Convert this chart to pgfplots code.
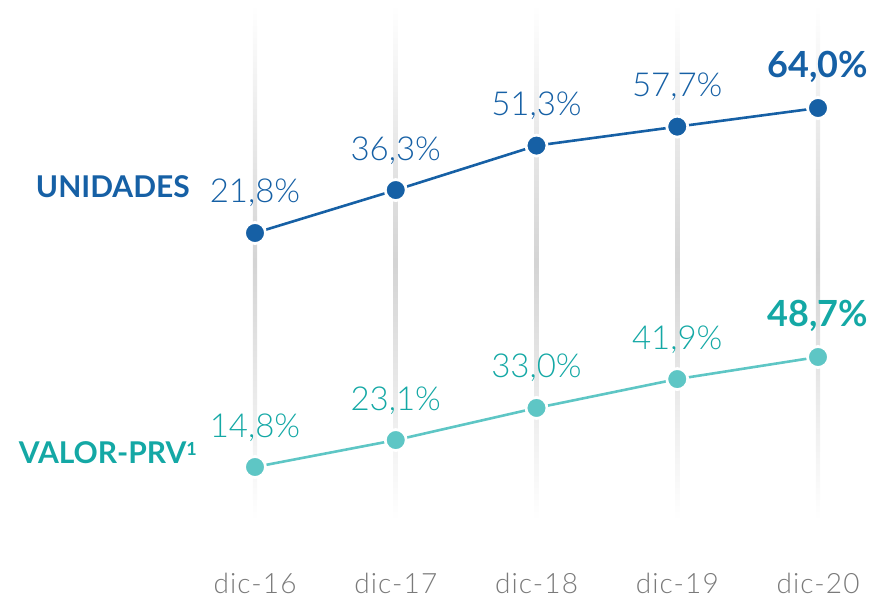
\documentclass[border=0pt]{standalone}
\usepackage{fontspec}
\setmainfont{Lato}[UprightFont=* Light, BoldFont=* Bold]
\usepackage{pgfplots}
\pgfplotsset{compat=1.18}

\definecolor{uniblue}{HTML}{1660A5}
\definecolor{tealtxt}{HTML}{14A8A5}
\definecolor{tealdot}{HTML}{5EC6C5}
\definecolor{ticktxt}{HTML}{7A7A7A}
\newcommand{\bigbold}[1]{{\fontsize{36}{40}\selectfont\bfseries #1}}

\begin{document}
\begin{tikzpicture}
\pgfplotsset{
  base/.style={
    scale only axis, width=875pt, height=597pt,
    xmin=-1.8117, xmax=4.405, clip=false,
    axis line style={draw=none}, major tick style={draw=none},
    ytick=\empty,
  },
  vals/.style={
    nodes near coords, point meta=explicit symbolic,
    every node near coord/.append style={anchor=base, inner sep=0pt, yshift=30pt,
      font=\fontsize{33}{36}\selectfont, text=#1},
  },
}
% UNIDADES (upper series)
\begin{axis}[base, ymin=-101.09, ymax=100.46,
  xtick={0,1,2,3,4}, xticklabels={dic-16,dic-17,dic-18,dic-19,dic-20},
  xticklabel style={anchor=base, inner sep=0pt, yshift=4pt,
    font=\fontsize{28}{32}\selectfont\addfontfeature{LetterSpace=4}, text=ticktxt}]
\pgfplotsinvokeforeach{0,1,2,3,4}{
  \shade[top color=white, bottom color=white, middle color=black!17]
    (axis cs:#1-0.015,98.8) rectangle (axis cs:#1+0.015,-75.1);
}
\addplot[uniblue, line width=2.6pt, mark=*, mark size=10.5pt,
  mark options={fill=uniblue, draw=white, line width=2.8pt}, vals=uniblue]
  coordinates {(0,21.8)[21,8\%] (1,36.3)[36,3\%] (2,51.3)[51,3\%] (3,57.7)[57,7\%] (4,64.0)[\bigbold{64,0\%}]};
\node[anchor=base east, inner sep=0pt, text=uniblue, font=\fontsize{30}{34}\selectfont\bfseries]
  at (axis cs:-0.462,33.62) {UNIDADES};
\end{axis}
% VALOR-PRV (lower series)
\begin{axis}[base, ymin=-25.26, ymax=158.71, xtick=\empty]
\addplot[tealdot, line width=2.6pt, mark=*, mark size=10.5pt,
  mark options={fill=tealdot, draw=white, line width=2.8pt}, vals=tealtxt]
  coordinates {(0,14.8)[14,8\%] (1,23.1)[23,1\%] (2,33.0)[33,0\%] (3,41.9)[41,9\%] (4,48.7)[\bigbold{48,7\%}]};
\node[anchor=base east, inner sep=0pt, text=tealtxt, font=\fontsize{30}{34}\selectfont\bfseries]
  at (axis cs:-0.412,16.03) {VALOR-PRV\raisebox{8pt}{\fontsize{18}{20}\selectfont\bfseries 1}};
\end{axis}
\pgfresetboundingbox
\path (0,0) rectangle (875pt,597pt);
\end{tikzpicture}
\end{document}
